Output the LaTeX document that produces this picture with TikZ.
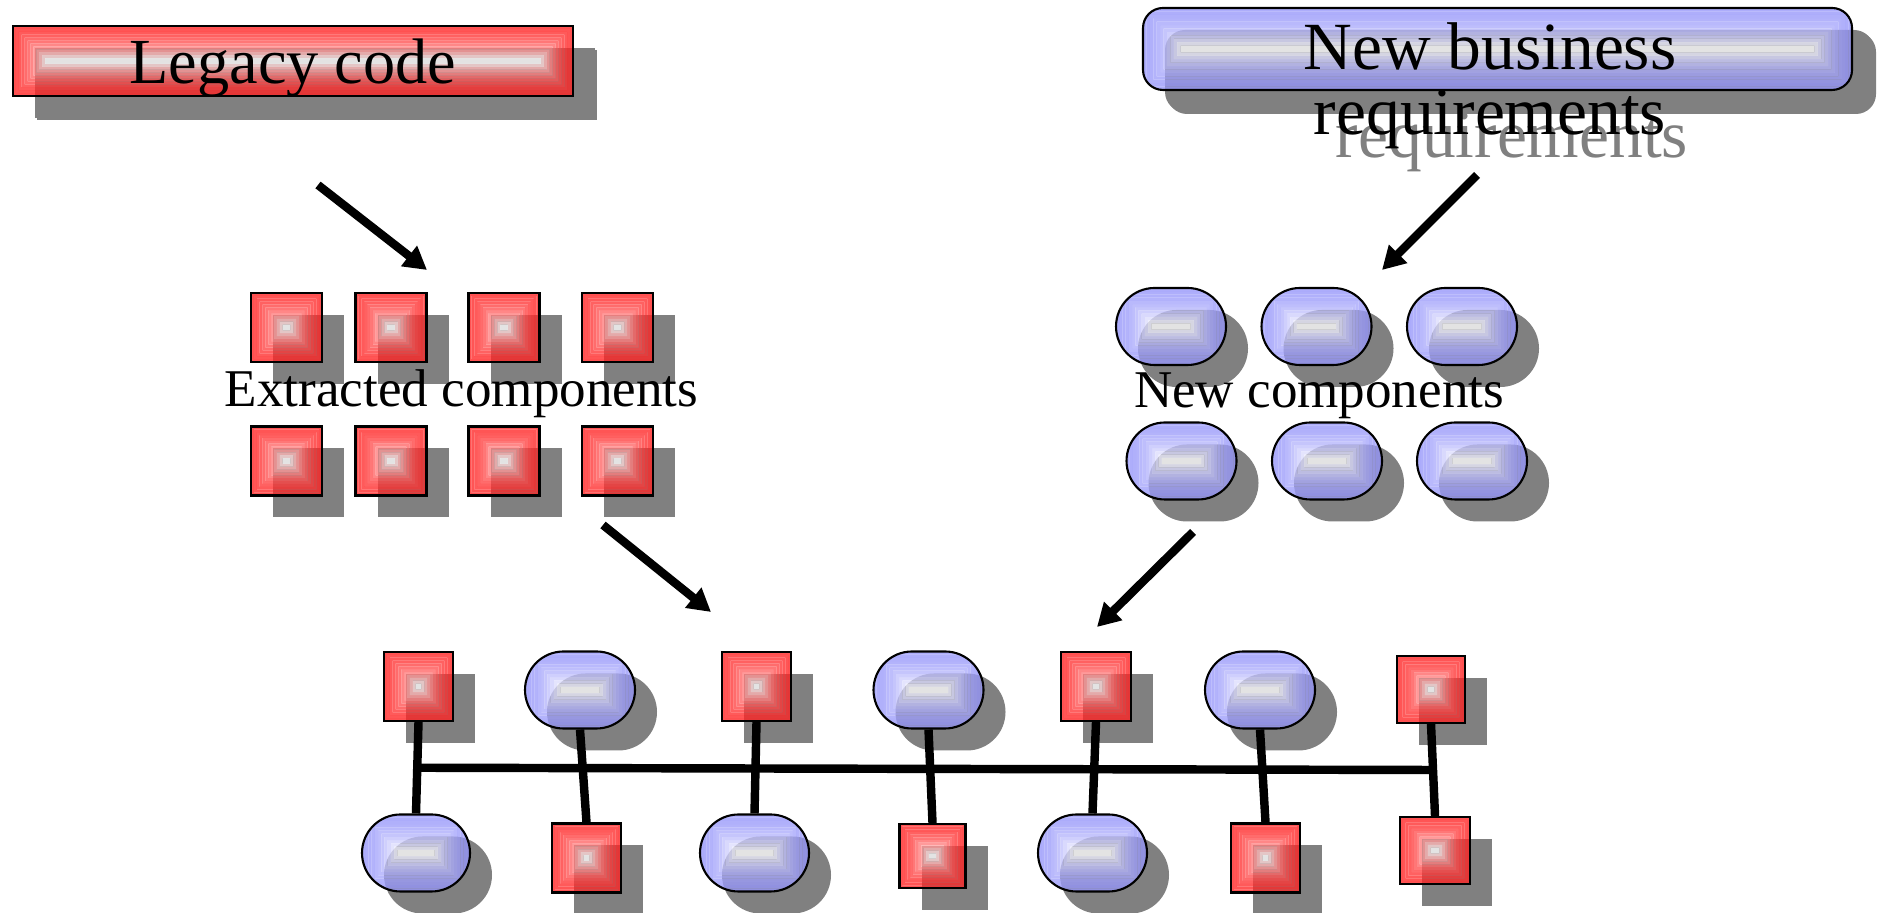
\documentclass[tikz,border=0pt]{standalone}
\usepackage{fontspec}
\setmainfont{Liberation Serif}
\usetikzlibrary{calc,shadows,arrows.meta}

\definecolor{legacyred}{RGB}{255,35,35}
\definecolor{newblue}{RGB}{150,150,250}

\begin{document}
\begin{tikzpicture}[
    % stepped rectangular gloss, clipped to the node outline
    gloss/.style={path picture={
      \foreach \k [evaluate=\k as \pct using {int(100-100*(\k/11)^2)}] in {0,...,11}
        \fill[sharp corners, fill=#1!\pct!white, fill opacity=0.78, even odd rule]
          let \p1=(path picture bounding box.south west),
              \p2=(path picture bounding box.north east),
              \n1={(\y2-\y1)/24} in
          (\x1+\k*\n1, \y1+\k*\n1) rectangle (\x2-\k*\n1, \y2-\k*\n1)
          (\x1+\k*\n1+\n1, \y1+\k*\n1+\n1) rectangle (\x2-\k*\n1-\n1, \y2-\k*\n1-\n1);
    }},
    comp/.style={draw=black, line width=0.6pt, inner sep=0pt,
      drop shadow={shadow xshift=0.22cm, shadow yshift=-0.22cm,
                   fill=black!50, opacity=1}},
    bigcomp/.style={comp, drop shadow={shadow xshift=0.24cm, shadow yshift=-0.24cm,
                   fill=black!50, opacity=1}},
    oldcomp/.style={comp, gloss=legacyred, minimum width=0.69cm, minimum height=0.69cm},
    newcomp/.style={comp, gloss=newblue, rounded corners=0.385cm,
      minimum width=1.1cm, minimum height=0.77cm},
    label/.style={font=\fontsize{15.1}{17}\selectfont, anchor=base},
    title/.style={font=\fontsize{19.2}{18.5}\selectfont, align=center, anchor=base},
    link/.style={line width=2.4pt},
    flow/.style={line width=2.4pt, -{Triangle[length=6.5pt,width=7pt]}},
  ]
  \useasboundingbox (0,0) rectangle (18.8,9.13);

  % the two sources
  \node[bigcomp, gloss=legacyred, minimum width=5.60cm, minimum height=0.70cm,
        text depth=0pt, font=\fontsize{18.3}{20}\selectfont]
    (legacy) at (2.93,8.52) {Legacy code};
  \node[bigcomp, gloss=newblue, rounded corners=0.2cm, minimum width=7.09cm,
        minimum height=0.82cm] (business) at (14.975,8.64) {};
  \node[title, text=black!50] (businessshadow) at (15.12,7.55)
    {\phantom{New business}\\requirements};
  \node[title] (businesstext) at (14.90,7.78) {New business\\requirements};

  % components taken from the old code
  \foreach \x [count=\i] in {2.865,3.91,5.04,6.175} {
    \node[oldcomp, minimum width=0.71cm] (extop\i) at (\x,5.855) {};
    \node[oldcomp, minimum width=0.71cm] (exbot\i) at (\x,4.52) {};
  }
  \node[label] (exlabel) at (4.615,5.06) {Extracted components};

  % components written for the new requirements
  \foreach \x [count=\i] in {11.71,13.165,14.62}
    \node[newcomp] (nwtop\i) at (\x,5.865) {};
  \foreach \x [count=\i] in {11.815,13.27,14.72}
    \node[newcomp] (nwbot\i) at (\x,4.52) {};
  \node[label] (nwlabel) at (13.19,5.05) {New components};

  % arrows
  \coordinate (f1a) at (3.18,7.28);   \coordinate (f1b) at (4.27,6.43);
  \coordinate (f2a) at (14.77,7.38);  \coordinate (f2b) at (13.82,6.43);
  \coordinate (f3a) at (6.03,3.88);   \coordinate (f3b) at (7.11,3.01);
  \coordinate (f4a) at (11.93,3.81);  \coordinate (f4b) at (10.97,2.86);
  \foreach \j in {1,...,4}
    \draw[flow] (f\j a) -- (f\j b);

  % the assembled system on a common bus
  \node[oldcomp] (t1) at (4.185,2.265) {};
  \node[newcomp] (t2) at (5.80,2.23) {};
  \node[oldcomp] (t3) at (7.565,2.265) {};
  \node[newcomp] (t4) at (9.285,2.23) {};
  \node[oldcomp, minimum width=0.70cm] (t5) at (10.96,2.265) {};
  \node[newcomp] (t6) at (12.60,2.23) {};
  \node[oldcomp, minimum width=0.68cm, minimum height=0.67cm] (t7) at (14.31,2.235) {};

  \node[newcomp, minimum width=1.08cm] (b1) at (4.16,0.60) {};
  \node[oldcomp] (b2) at (5.865,0.55) {};
  \node[newcomp, minimum width=1.09cm] (b3) at (7.545,0.60) {};
  \node[oldcomp, minimum width=0.66cm, minimum height=0.64cm] (b4) at (9.325,0.57) {};
  \node[newcomp, minimum width=1.09cm] (b5) at (10.925,0.60) {};
  \node[oldcomp] (b6) at (12.655,0.55) {};
  \node[oldcomp, minimum width=0.70cm, minimum height=0.67cm] (b7) at (14.35,0.625) {};

  \foreach \i in {1,...,7}
    \draw[link] (t\i.south) -- (b\i.north);
  \draw[link] ($(t1.south)!0.5!(b1.north)$) -- ($(t7.south)!0.5!(b7.north)$);
\end{tikzpicture}
\end{document}
